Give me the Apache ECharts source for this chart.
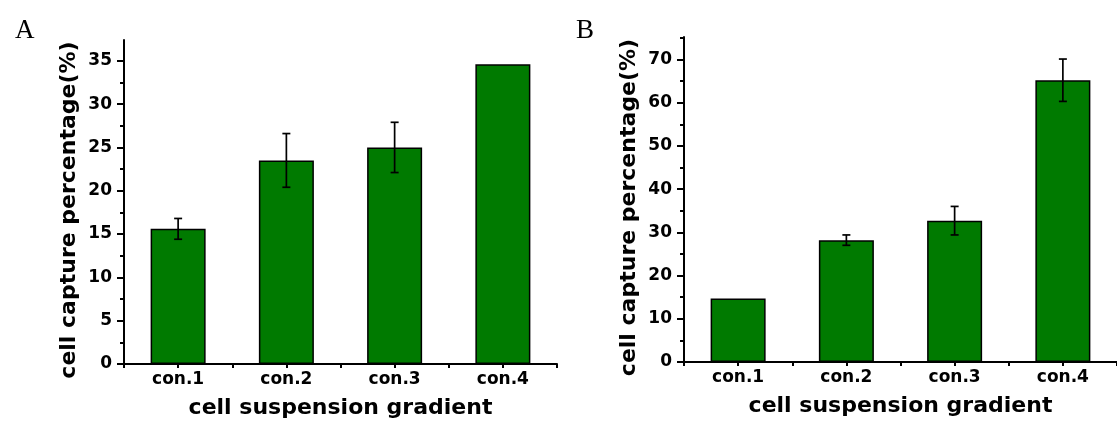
<!DOCTYPE html>
<html>
<head>
<meta charset="utf-8">
<title>cell capture percentage</title>
<script src="https://cdn.jsdelivr.net/npm/echarts@6/dist/echarts.min.js"></script>
<style>
    html, body { margin: 0; padding: 0; background: #fff; }
    #main { width: 1117px; height: 424px; }
</style>
</head>
<body>
<div id="main"></div>
<script>
// 数据
var categories = ['con.1', 'con.2', 'con.3', 'con.4'];
var valuesA = [15.6, 23.5, 25.0, 34.6];
var errorsA = [1.2, 3.1, 2.9, 0];
var valuesB = [14.7, 28.2, 32.7, 65.2];
var errorsB = [0, 1.2, 3.3, 4.9];
var majorTicksA = [0, 5, 10, 15, 20, 25, 30, 35];
var minorTicksA = [2.5, 7.5, 12.5, 17.5, 22.5, 27.5, 32.5];
var majorTicksB = [0, 10, 20, 30, 40, 50, 60, 70];
var minorTicksB = [5, 15, 25, 35, 45, 55, 65, 75];

var fontFamily = '"DejaVu Sans", Arial, sans-serif';
var barColor = '#007a00';

var errData = function (values, errors) {
    return values.map(function (v, i) {
        return [i, v, errors[i]];
    });
};

// 误差棒
var renderErr = function (params, api) {
    var x = api.value(0), v = api.value(1), e = api.value(2);
    if (!e) {
        return;
    }
    var hi = api.coord([x, v + e]), lo = api.coord([x, v - e]);
    var hw = 4, st = {stroke: '#000', lineWidth: 1.7};
    return {
        type: 'group',
        children: [
            {type: 'line', shape: {x1: hi[0], y1: hi[1], x2: lo[0], y2: lo[1]}, style: st},
            {type: 'line', shape: {x1: hi[0] - hw, y1: hi[1], x2: hi[0] + hw, y2: hi[1]}, style: st},
            {type: 'line', shape: {x1: lo[0] - hw, y1: lo[1], x2: lo[0] + hw, y2: lo[1]}, style: st}
        ]
    };
};

var mainX = function (grid) {
    return {
        type: 'category', gridIndex: grid, position: 'bottom', data: categories, boundaryGap: true,
        name: 'cell suspension gradient', nameLocation: 'middle', nameGap: 33,
        nameTextStyle: {fontFamily: fontFamily, fontWeight: 'bold', fontSize: 22, color: '#000'},
        axisLine: {lineStyle: {color: '#000', width: 2}},
        axisTick: {show: true, alignWithLabel: false, length: 4, lineStyle: {width: 2, color: '#000'}},
        axisLabel: {fontFamily: fontFamily, fontWeight: 'bold', fontSize: 17, color: '#000', margin: 7}
    };
};
var centerX = function (grid) {
    return {
        type: 'category', gridIndex: grid, position: 'bottom', data: categories, boundaryGap: true,
        axisLine: {show: false},
        axisTick: {show: true, alignWithLabel: true, length: 4, lineStyle: {width: 2, color: '#000'}},
        axisLabel: {show: false}
    };
};
var mainY = function (grid, max, ticks, name) {
    return {
        type: 'value', gridIndex: grid, position: 'left', min: 0, max: max,
        name: name, nameLocation: 'middle', nameGap: 44,
        nameTextStyle: {fontFamily: fontFamily, fontWeight: 'bold', fontSize: 22, color: '#000', padding: [0, 16, 0, 0]},
        splitLine: {show: false},
        axisLine: {show: true, lineStyle: {color: '#000', width: 2}},
        axisTick: {show: true, length: 7, customValues: ticks, lineStyle: {width: 2, color: '#000'}},
        axisLabel: {customValues: ticks, fontFamily: fontFamily, fontWeight: 'bold', fontSize: 17, color: '#000', margin: 12}
    };
};
var minorY = function (grid, max, ticks) {
    return {
        type: 'value', gridIndex: grid, position: 'left', min: 0, max: max,
        splitLine: {show: false},
        axisLine: {show: false},
        axisTick: {show: true, length: 4, customValues: ticks, lineStyle: {width: 2, color: '#000'}},
        axisLabel: {show: false}
    };
};

var chart = echarts.init(document.getElementById('main'));
chart.setOption({
    animation: false,
    backgroundColor: '#fff',
    title: [
        {text: 'A', left: 10, top: 12, textStyle: {fontFamily: '"Liberation Serif", serif', fontSize: 27, fontWeight: 'normal', color: '#000'}},
        {text: 'B', left: 571, top: 12, textStyle: {fontFamily: '"Liberation Serif", serif', fontSize: 27, fontWeight: 'normal', color: '#000'}}
    ],
    grid: [
        {left: 124, top: 40, width: 433, height: 324},
        {left: 684, top: 37, width: 434, height: 325}
    ],
    xAxis: [mainX(0), centerX(0), mainX(1), centerX(1)],
    yAxis: [
        mainY(0, 37.4, majorTicksA, 'cell capture percentage(%)'),
        minorY(0, 37.4, minorTicksA),
        mainY(1, 75.2, majorTicksB, 'cell capture percentage(%)'),
        minorY(1, 75.2, minorTicksB)
    ],
    series: [
        {
            type: 'bar', xAxisIndex: 0, yAxisIndex: 0, data: valuesA, barWidth: 55,
            itemStyle: {color: barColor, borderColor: '#000', borderWidth: 1.5}
        },
        {
            type: 'custom', xAxisIndex: 0, yAxisIndex: 0, data: errData(valuesA, errorsA),
            encode: {x: 0, y: 1}, renderItem: renderErr, z: 5
        },
        {
            type: 'bar', xAxisIndex: 2, yAxisIndex: 2, data: valuesB, barWidth: 55,
            itemStyle: {color: barColor, borderColor: '#000', borderWidth: 1.5}
        },
        {
            type: 'custom', xAxisIndex: 2, yAxisIndex: 2, data: errData(valuesB, errorsB),
            encode: {x: 0, y: 1}, renderItem: renderErr, z: 5
        }
    ]
});
</script>
</body>
</html>
